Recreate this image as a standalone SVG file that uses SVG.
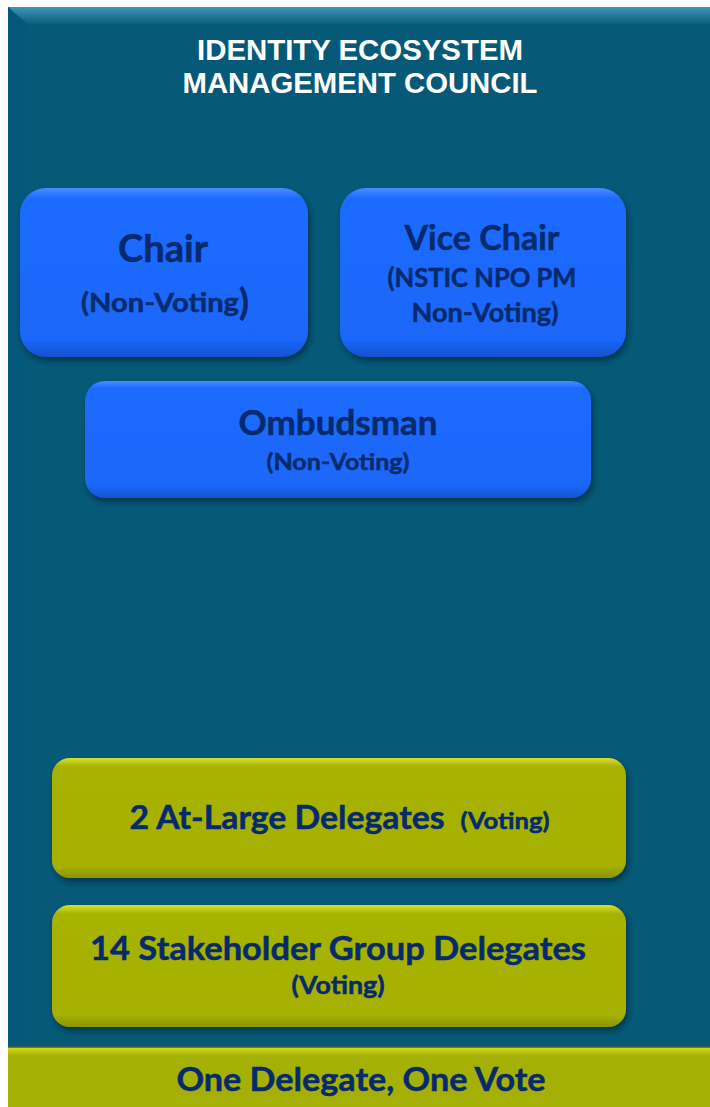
<svg xmlns="http://www.w3.org/2000/svg" width="710" height="1107" viewBox="0 0 710 1107">
<defs>
<style>
.lbl{font-family:Lato,"Open Sans","Liberation Sans",sans-serif;font-weight:bold;fill:#062a6e;stroke:#062a6e;stroke-width:0.5;text-anchor:middle}
.ttl{font-family:"Liberation Sans",Arial,sans-serif;font-weight:bold;fill:#ffffff;text-anchor:middle}
.blue{fill:url(#gBlue)}
.olive{fill:url(#gOlive)}
</style>
<linearGradient id="gBlue" x1="0" y1="0" x2="0" y2="1">
<stop offset="0" stop-color="#4d8cff"/>
<stop offset="0.06" stop-color="#1f6bff"/>
<stop offset="0.9" stop-color="#1a66fa"/>
<stop offset="1" stop-color="#1452d0"/>
</linearGradient>
<linearGradient id="gOlive" x1="0" y1="0" x2="0" y2="1">
<stop offset="0" stop-color="#d8e22a"/>
<stop offset="0.07" stop-color="#a8b306"/>
<stop offset="0.9" stop-color="#a5b005"/>
<stop offset="1" stop-color="#8c9504"/>
</linearGradient>
<linearGradient id="gTop" x1="0" y1="0" x2="0" y2="1">
<stop offset="0" stop-color="#3d95b8"/>
<stop offset="1" stop-color="#075b7a"/>
</linearGradient>
<linearGradient id="gBar" x1="0" y1="0" x2="0" y2="1">
<stop offset="0" stop-color="#d4de22"/>
<stop offset="0.15" stop-color="#a5b005"/>
<stop offset="1" stop-color="#a5b005"/>
</linearGradient>
<filter id="sh" x="-10%" y="-10%" width="120%" height="130%">
<feDropShadow dx="2" dy="4" stdDeviation="3" flood-color="#001a2a" flood-opacity="0.6"/>
</filter>
</defs>
<rect x="0" y="0" width="710" height="1107" fill="#ffffff"/>
<g id="council">
<rect x="8" y="7" width="702" height="1040" fill="#065a78"/>
<path d="M8 7 H710 V25 H28 Z" fill="url(#gTop)"/>
<path d="M8 7 L28 25 V1047 H8 Z" fill="#06587a"/>
<text class="ttl" x="360" y="60" font-size="29" textLength="326" lengthAdjust="spacingAndGlyphs">IDENTITY ECOSYSTEM</text>
<text class="ttl" x="360" y="93" font-size="29" textLength="355" lengthAdjust="spacingAndGlyphs">MANAGEMENT COUNCIL</text>
</g>
<g id="chair">
<rect class="blue" x="20" y="188" width="288" height="169" rx="26" filter="url(#sh)"/>
<text class="lbl" x="163" y="262" font-size="38" textLength="90" lengthAdjust="spacingAndGlyphs">Chair</text>
<text class="lbl" x="160" y="312" font-size="26" textLength="158" lengthAdjust="spacingAndGlyphs">(Non-Voting</text>
<text class="lbl" x="244" y="315" font-size="36">)</text>
</g>
<g id="vice-chair">
<rect class="blue" x="340" y="188" width="286" height="169" rx="26" filter="url(#sh)"/>
<text class="lbl" x="482" y="250" font-size="34" textLength="155" lengthAdjust="spacingAndGlyphs">Vice Chair</text>
<text class="lbl" x="482" y="287" font-size="26" textLength="189" lengthAdjust="spacingAndGlyphs">(NSTIC NPO PM</text>
<text class="lbl" x="485" y="322" font-size="26" textLength="147" lengthAdjust="spacingAndGlyphs">Non-Voting)</text>
</g>
<g id="ombudsman">
<rect class="blue" x="85" y="381" width="506" height="117" rx="20" filter="url(#sh)"/>
<text class="lbl" x="338" y="435" font-size="34" textLength="199" lengthAdjust="spacingAndGlyphs">Ombudsman</text>
<text class="lbl" x="338" y="470" font-size="22" textLength="143" lengthAdjust="spacingAndGlyphs">(Non-Voting)</text>
</g>
<g id="at-large">
<rect class="olive" x="52" y="758" width="574" height="120" rx="18" filter="url(#sh)"/>
<text class="lbl" x="287" y="829" font-size="33" textLength="315" lengthAdjust="spacingAndGlyphs">2 At-Large Delegates</text>
<text class="lbl" x="505" y="829" font-size="22" textLength="89" lengthAdjust="spacingAndGlyphs">(Voting)</text>
</g>
<g id="stakeholder">
<rect class="olive" x="52" y="905" width="574" height="122" rx="18" filter="url(#sh)"/>
<text class="lbl" x="338" y="960" font-size="33" textLength="496" lengthAdjust="spacingAndGlyphs">14 Stakeholder Group Delegates</text>
<text class="lbl" x="338" y="994" font-size="24" textLength="93" lengthAdjust="spacingAndGlyphs">(Voting)</text>
</g>
<g id="footer">
<rect x="8" y="1047" width="702" height="60" fill="url(#gBar)"/>
<line x1="8" y1="1047" x2="710" y2="1047" stroke="#4a5a30" stroke-width="1.5"/>
<text class="lbl" x="361" y="1091" font-size="33" textLength="369" lengthAdjust="spacingAndGlyphs">One Delegate, One Vote</text>
</g>
<g id="connectors"/>
</svg>
